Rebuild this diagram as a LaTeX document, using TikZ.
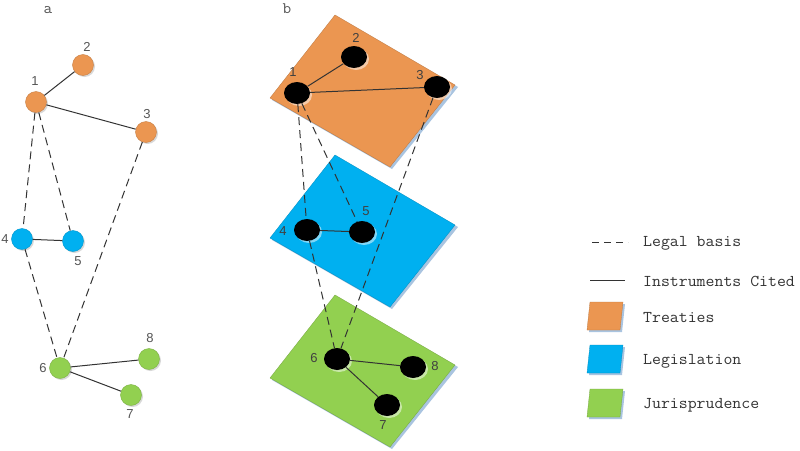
\documentclass[tikz,border=0pt]{standalone}
\usepackage{fontspec}
\setmainfont{Liberation Sans}
\newfontfamily\monof{Latin Modern Mono}[FakeStretch=1.05]
\usetikzlibrary{shapes.geometric,shadows}
\definecolor{tre}{HTML}{EB9651}
\definecolor{leg}{HTML}{00B0F0}
\definecolor{jur}{HTML}{92D050}
\definecolor{shd}{HTML}{A9C4E0}
\definecolor{lbl}{HTML}{555555}
\tikzset{
  anode/.style={circle,minimum size=21pt,inner sep=0pt,draw=#1!85!black,line width=0.4pt,fill=#1,
     drop shadow={shadow xshift=1.5pt,shadow yshift=-1.5pt,fill=black!25,opacity=0.6}},
  bnode/.style={ellipse,minimum width=26pt,minimum height=22pt,inner sep=0pt,fill=black,
     drop shadow={shadow xshift=2pt,shadow yshift=-2pt,fill=white,opacity=0.5}},
  num/.style={font=\fontsize{13}{13}\selectfont,text=lbl,inner sep=0pt},
  bnum/.style={font=\fontsize{13}{13}\selectfont,text=black!75,inner sep=0pt},
  cite/.style={line width=1pt,black!80},
  basis/.style={line width=1pt,black!80,dash pattern=on 8pt off 5pt},
  legtext/.style={font=\monof\fontsize{16.5}{16.5}\selectfont,anchor=west,inner sep=0pt,text=black!80},
  panel/.style={font=\monof\fontsize{16}{16}\selectfont,text=lbl,inner sep=0pt},
}
\begin{document}
\begin{tikzpicture}[x=1pt,y=-1pt]
\useasboundingbox (0,0) rectangle (800,450);
\fill[white] (0,0) rectangle (800,450);
% panel labels
\node[panel] (la) at (48,10) {a};
\node[panel] (lb) at (287,9) {b};
% ---------- panel a ----------
\node[anode=tre] (a1) at (36,102) {};
\node[anode=tre] (a2) at (83,65) {};
\node[anode=tre] (a3) at (146,132) {};
\node[anode=leg] (a4) at (22,239) {};
\node[anode=leg] (a5) at (73,241) {};
\node[anode=jur] (a6) at (60,368) {};
\node[anode=jur] (a8) at (149,359) {};
\node[anode=jur] (a7) at (131,395) {};
\node[num] (n1) at (35,81) {1};
\node[num] (n2) at (87,47) {2};
\node[num] (n3) at (147,114) {3};
\node[num] (n4) at (5,239) {4};
\node[num] (n5) at (78,261) {5};
\node[num] (n6) at (43,368) {6};
\node[num] (n8) at (150,338) {8};
\node[num] (n7) at (130,414) {7};
\draw[cite] (a1) -- (a2);
\draw[cite] (a1) -- (a3);
\draw[cite] (a4) -- (a5);
\draw[cite] (a6) -- (a8);
\draw[cite] (a6) -- (a7);
\draw[basis] (a1) -- (a4);
\draw[basis] (a1) -- (a5);
\draw[basis] (a3) -- (a6);
\draw[basis] (a4) -- (a6);
% ---------- panel b planes ----------
\foreach \dy/\col in {0/tre,140/leg,280/jur}{
  \fill[shd] (337,17+\dy) -- (458,87+\dy) -- (392,169+\dy) -- (272,100+\dy) -- cycle;
  \filldraw[fill=\col,draw=\col!80!black,line width=0.3pt] (335,15+\dy) -- (455,85+\dy) -- (390,167+\dy) -- (270,98+\dy) -- cycle;
}
% ---------- panel b nodes ----------
\node[bnode] (b1) at (297,93) {};
\node[bnode] (b2) at (354,57) {};
\node[bnode] (b3) at (437,87) {};
\node[bnode] (b4) at (307,230) {};
\node[bnode] (b5) at (362,232) {};
\node[bnode] (b6) at (337,359) {};
\node[bnode] (b8) at (413,367) {};
\node[bnode] (b7) at (387,405) {};
\node[bnum] (m1) at (293,72) {1};
\node[bnum] (m2) at (356,38) {2};
\node[bnum] (m3) at (420,75) {3};
\node[bnum] (m4) at (283,231) {4};
\node[bnum] (m5) at (366,211) {5};
\node[bnum] (m6) at (314,358) {6};
\node[bnum] (m8) at (435,366) {8};
\node[bnum] (m7) at (383,425) {7};
\draw[cite] (b1) -- (b2);
\draw[cite] (b1) -- (b3);
\draw[cite] (b4) -- (b5);
\draw[cite] (b6) -- (b8);
\draw[cite] (b6) -- (b7);
\draw[basis] (b1) -- (b4);
\draw[basis] (b1) -- (b5);
\draw[basis] (b3) -- (b6);
\draw[basis] (b4) -- (b6);
% ---------- legend ----------
\coordinate (d1) at (592,242);
\coordinate (d2) at (628,242);
\draw[basis,dash pattern=on 7pt off 5pt] (d1) -- (d2);
\node[legtext] (t1) at (643,243) {Legal basis};
\coordinate (s1) at (590,280);
\coordinate (s2) at (625,280);
\draw[cite] (s1) -- (s2);
\node[legtext] (t2) at (643,281) {Instruments Cited};
\foreach \yy/\col/\txt/\nm in {302/tre/Treaties/t3,345/leg/Legislation/t4,389/jur/Jurisprudence/t5}{
  \fill[shd] (592,\yy+2) -- (625,\yy+2) -- (622,\yy+30) -- (589,\yy+30) -- cycle;
  \filldraw[fill=\col,draw=\col!80!black,line width=0.3pt] (590,\yy) -- (623,\yy) -- (620,\yy+28) -- (587,\yy+28) -- cycle;
  \node[legtext] (\nm) at (643,\yy+16) {\txt};
}
\end{tikzpicture}
\end{document}
